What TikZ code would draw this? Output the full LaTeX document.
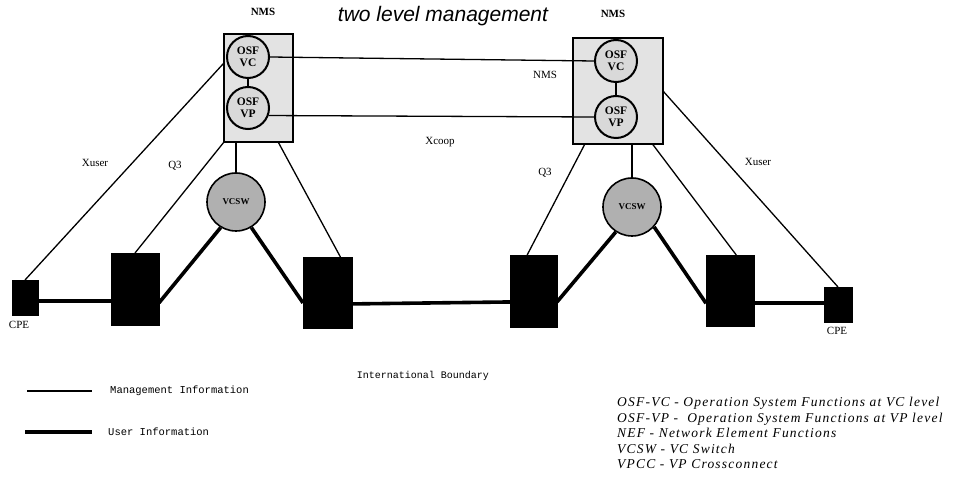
\documentclass[tikz,border=0pt]{standalone}
\usepackage{fontspec}
\setmainfont{Liberation Serif}
\setsansfont{Liberation Sans}
\setmonofont{Liberation Mono}
\usepackage{tikz}
\usetikzlibrary{calc}

\begin{document}
\begin{tikzpicture}[x=1pt,y=-1pt,font=\fontsize{11}{11}\selectfont,
  nms/.style={draw,line width=1.4pt,fill=gray!22,inner sep=0pt,outer sep=0pt},
  osf/.style={circle,draw,line width=2pt,fill=gray!30,minimum size=42pt,inner sep=0pt,align=center,font=\fontsize{11.5}{12}\selectfont\bfseries},
  vcsw/.style={circle,draw,line width=1.6pt,fill=gray!62,minimum size=58pt,inner sep=0pt,font=\fontsize{9}{9}\selectfont\bfseries},
  nef/.style={draw,fill=black,inner sep=0pt,outer sep=0pt},
  lbl/.style={inner sep=0pt},
  mono/.style={font=\fontsize{10.5}{10.5}\selectfont\ttfamily,inner sep=0pt},
  mg/.style={line width=1.3pt},
  usr/.style={line width=3.6pt}]
  \useasboundingbox (0,0) rectangle (953,486);
  \node[nms,minimum width=69pt,minimum height=108pt] (nmsL) at (258.5,88) {};
  \node[nms,minimum width=90pt,minimum height=106pt] (nmsR) at (618,91) {};
  \node[osf] (vcL) at (248,57) {OSF\\VC};
  \node[osf] (vpL) at (248,108) {OSF\\VP};
  \node[osf] (vcR) at (616,61) {OSF\\VC};
  \node[osf] (vpR) at (616,117) {OSF\\VP};
  \node[vcsw] (swL) at (236,202) {VCSW};
  \node[vcsw] (swR) at (632,207) {VCSW};
  \node[nef,minimum width=26pt,minimum height=35pt] (cpeL) at (25,297.5) {};
  \node[nef,minimum width=48pt,minimum height=72pt] (neL1) at (135,289) {};
  \node[nef,minimum width=49pt,minimum height=71pt] (neL2) at (327.5,292.5) {};
  \node[nef,minimum width=47pt,minimum height=72pt] (neR1) at (533.5,291) {};
  \node[nef,minimum width=48pt,minimum height=71pt] (neR2) at (730,290.5) {};
  \node[nef,minimum width=28pt,minimum height=35pt] (cpeR) at (838,304.5) {};
  \node[lbl] (nmsLt) at (263,12) {\bfseries NMS};
  \node[lbl] (nmsRt) at (613,14) {\bfseries NMS};
  \node[lbl,font=\fontsize{21}{21}\selectfont\sffamily\itshape] (title) at (443,16) {two level management};
  \node[lbl] (vms) at (545,75) {NMS};
  \node[lbl] (xcoop) at (440,142) {Xcoop};
  \node[lbl] (q3L) at (175,166) {Q3};
  \node[lbl] (q3R) at (545,173) {Q3};
  \node[lbl] (xuL) at (95,163) {Xuser};
  \node[lbl] (xuR) at (758,162) {Xuser};
  \node[lbl] (cpeLt) at (19,325) {CPE};
  \node[lbl] (cpeRt) at (837,331) {CPE};
  \node[mono,font=\fontsize{10}{10}\selectfont\ttfamily] (intb) at (423,376) {International Boundary};
  \node[mono,anchor=west] (mgtxt) at (110,391) {Management Information};
  \node[mono,anchor=west] (ustxt) at (108,432) {User Information};
  \coordinate (mg1) at (27,391); \coordinate (mg2) at (92,391);
  \coordinate (us1) at (25,432); \coordinate (us2) at (92,432);
  \node[anchor=north west,align=left,inner sep=0pt,font=\fontsize{13.5}{15.6}\selectfont\itshape\addfontfeature{LetterSpace=9}] (key) at (617,397)
    {OSF-VC - Operation System Functions at VC level\\
     OSF-VP -~ Operation System Functions at VP level\\
     NEF - Network Element Functions\\
     VCSW - VC Switch\\
     VPCC - VP Crossconnect};
  \draw[mg] (vcL.east) -- (vcR.west); \draw[mg] (vpL.-20) -- (vpR.west);
  \draw[mg] (vcL) -- (vpL); \draw[mg] (vcR) -- (vpR);
  \draw[mg] (nmsL.144) -- (cpeL.north); \draw[mg] (nmsL.south west) -- (neL1.north);
  \draw[mg] (swL.north |- nmsL.south) -- (swL.north); \draw[mg] (nmsL.-70) -- (neL2.70);
  \draw[mg] (nmsR.238) -- (neR1.100); \draw[mg] (swR.north |- nmsR.south) -- (swR.north);
  \draw[mg] (nmsR.-57) -- (neR2.80); \draw[mg] (nmsR.east) -- (cpeR.north);
  \draw[usr] (cpeL.-15) -- (cpeL.-15 -| neL1.west);
  \draw[usr] (neL1.-30) -- (swL.239); \draw[usr] (swL.-59) -- (neL2.203);
  \draw[usr] (neL2.-25) -- (neR1.205);
  \draw[usr] (neR1.-25) -- (swR.237); \draw[usr] (swR.-42) -- (neR2.208);
  \draw[usr] (neR2.-28) -- (neR2.-28 -| cpeR.west);
  \draw[mg] (mg1) -- (mg2); \draw[usr] (us1) -- (us2);
\end{tikzpicture}
\end{document}
